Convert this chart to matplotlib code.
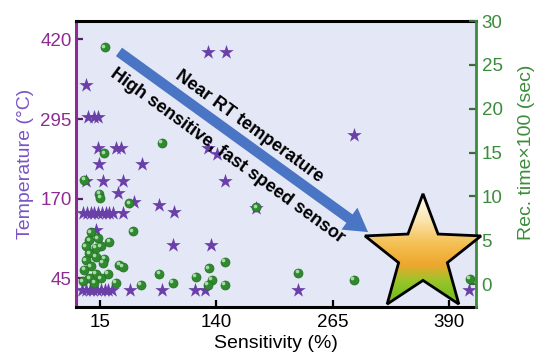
import numpy as np
import matplotlib
matplotlib.use("Agg")
import matplotlib.pyplot as plt
from matplotlib.patches import Polygon
from matplotlib.colors import LinearSegmentedColormap
from matplotlib.transforms import ScaledTranslation

plt.rcParams['font.family'] = ['Liberation Sans', 'DejaVu Sans']

# sensing temperature of reported sensors (stars)
star_sens = [131, 150, 0, 2, 8.5, 13, 13, 32, 37.6, 14, 60, 131, 141,
             0, 18, 40, 149, 34, 52, 78, 95, 183,
             -3, 1, 5, 9, 13, 17, 21, 25, 29, 40,
             11, 93, 134, 288,
             -4, 0, 4, 8, 12, 16, 20, 24, 28, 47, 82, 117, 128, 228, 411]
star_temp = [400, 400, 348, 298, 298, 298, 250, 250, 250, 225, 225, 250, 240,
             198, 198, 198, 198, 179, 165, 160, 149, 156,
             148, 148, 148, 148, 148, 148, 148, 148, 148, 148,
             121, 98, 98, 270,
             26, 26, 26, 26, 26, 26, 26, 26, 26, 26, 26, 26, 26, 26, 26]

# recovery time of reported sensors (spheres)
ball_sens = [20.4, 81.7, 19.6, -2.0, 14.3, 15.5, 46.5, 50.0,
             5.3, 3.5, 12.5, 25.0, 16.0, 3.5, 0.0, 10.7, 19.6, 5.3, -1.9,
             10.7, 23.3, 35.8, 39.4, 3.5, 16.0, 32.3, 59.0, 78.7, 93.0,
             0.0, 10.7, -3.6, 8.9, 18.0,
             118.3, 132.0, 135.0, 131.0, 149.4, 149.4, 183, 228, 288, 412]
ball_time = [27.0, 16.1, 14.9, 11.9, 10.3, 9.8, 9.2, 6.0,
             5.9, 5.0, 5.2, 4.8, 4.3, 3.5, 2.7, 3.1, 2.9, 2.0, 1.6,
             1.2, 1.2, 2.2, 1.95, 0.65, 0.65, 0.1, -0.1, 1.2, 0.1,
             4.3, 4.1, 0.3, 0.1, 2.4,
             0.85, 1.8, 0.45, -0.1, 2.5, -0.1, 8.75, 1.25, 0.45, 0.6]

x_ticks = [15, 140, 265, 390]
temp_ticks = [45, 170, 295, 420]
time_ticks = [0, 5, 10, 15, 20, 25, 30]

best_point = (362, 82)  # sensitivity, temperature of the highlighted target

purple = '#8d2b93'
violet = '#7b55c4'
green = '#3b8c3b'
star_color = '#6a40a8'

fig = plt.figure(figsize=(5.37, 3.55), dpi=100)
ax = fig.add_axes([0.1415, 0.1352, 0.745, 0.8056])
ax.set_facecolor('#e3e7f6')
ax2 = ax.twinx()

ax.scatter(star_sens, star_temp, marker='*', s=120, color=star_color,
           linewidths=0, zorder=3)

# spheres: dark body plus a small highlight
ax2.scatter(ball_sens, ball_time, s=42, color='#2f8a2f', edgecolors='#226d22',
            linewidths=0.5, zorder=3)
shine = ax2.transData + ScaledTranslation(-1.2 / 72, 1.2 / 72, fig.dpi_scale_trans)
ax2.scatter(ball_sens, ball_time, s=7, color='#a6dba6', linewidths=0,
            transform=shine, zorder=4)

ax.set_xlim(-10.8, 419)
ax.set_ylim(0, 449)
ax2.set_ylim(-2.62, 30)

ax.set_xticks(x_ticks)
ax.set_yticks(temp_ticks)
ax2.set_yticks(time_ticks)

ax.tick_params(axis='x', direction='in', length=5, width=1.6, color='black',
               labelsize=13.5, pad=5)
ax.tick_params(axis='y', direction='in', length=5, width=1.6, color='#5a1f60',
               labelcolor=purple, labelsize=13.5, pad=3)
ax2.tick_params(axis='y', direction='in', length=5, width=1.6, color='#3d6b3d',
                labelcolor=green, labelsize=13.5, pad=4)

for s in ['top', 'bottom']:
    ax.spines[s].set_linewidth(2.2)
    ax.spines[s].set_color('black')
ax.spines['left'].set_linewidth(2.2)
ax.spines['left'].set_color(purple)
ax.spines['right'].set_visible(False)
for s in ['top', 'bottom', 'left']:
    ax2.spines[s].set_visible(False)
ax2.spines['right'].set_linewidth(2.0)
ax2.spines['right'].set_color(green)

ax.set_xlabel('Sensitivity (%)', fontsize=14, labelpad=3)
ax.set_ylabel('Temperature (°C)', fontsize=14, color=violet)
ax.yaxis.set_label_coords(-0.105, 0.5)
ax2.set_ylabel('Rec. time×100 (sec)', fontsize=14, color=green)
ax2.yaxis.set_label_coords(1.105, 0.54)

# trend arrow and captions
ax2.annotate('', xy=(0.73, 0.262), xytext=(0.1075, 0.892),
             xycoords='axes fraction', textcoords='axes fraction',
             arrowprops=dict(arrowstyle='simple,head_length=1.1,head_width=1.3,tail_width=0.5',
                             fc='#4a74c4', ec='none', mutation_scale=15,
                             shrinkA=0, shrinkB=0), zorder=6)
ax2.text(0.434, 0.631, 'Near RT temperature', transform=ax.transAxes,
         rotation=-36, rotation_mode='anchor', ha='center', va='center',
         fontsize=13, fontweight='bold', zorder=7)
ax2.text(0.379, 0.529, 'High sensitive, fast speed sensor', transform=ax.transAxes,
         rotation=-36, rotation_mode='anchor', ha='center', va='center',
         fontsize=13, fontweight='bold', zorder=7)

# big gradient star on an overlay so it can reach past the spine
over = fig.add_axes([0, 0, 1, 1])
over.set_axis_off()
over.patch.set_visible(False)
R_out, R_in = 0.61, 0.61 * 0.42
ang = np.pi / 2 + np.arange(10) * np.pi / 5
rad = np.where(np.arange(10) % 2 == 0, R_out, R_in)
verts = np.column_stack([rad * np.cos(ang), rad * np.sin(ang)])
star_tr = fig.dpi_scale_trans + ScaledTranslation(best_point[0], best_point[1], ax.transData)

cmap = LinearSegmentedColormap.from_list('gold', [
    (0.00, '#cf9f35'), (0.08, '#78c020'), (0.22, '#9cc42a'),
    (0.36, '#eea72e'), (0.55, '#f4bf52'), (0.78, '#fbe7b4'), (1.00, '#fffdf6')])
grad = np.linspace(0, 1, 256).reshape(-1, 1)
img = over.imshow(grad, cmap=cmap, origin='lower', aspect='auto',
                  extent=(-R_out, R_out, -0.5, R_out), transform=star_tr,
                  interpolation='bilinear', zorder=8)
outline = Polygon(verts, closed=True, transform=star_tr, facecolor='none',
                  edgecolor='black', linewidth=2.0, joinstyle='miter', zorder=9)
over.add_patch(outline)
img.set_clip_path(outline)
over.set_xlim(0, 1)
over.set_ylim(0, 1)

fig.savefig('out.png', dpi=100)
